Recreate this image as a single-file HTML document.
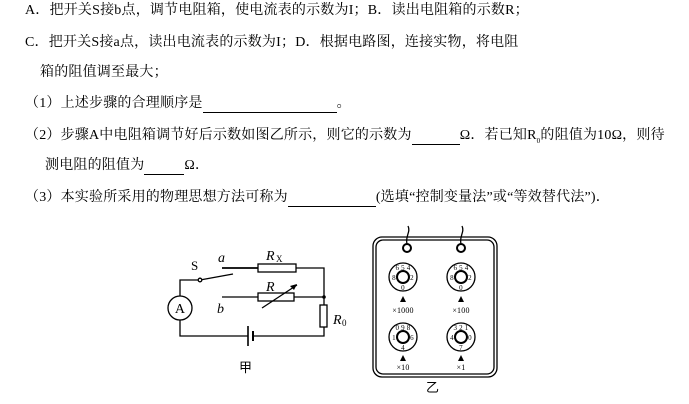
<!DOCTYPE html>
<html><head><meta charset="utf-8"><style>
body{margin:0;background:#fff;width:689px;height:404px;position:relative;overflow:hidden;font-family:"Liberation Serif","Noto Serif CJK SC","Noto Sans CJK SC",serif;font-size:14px;letter-spacing:0.2px;color:#000}
.t{position:absolute;white-space:nowrap;line-height:16px}
u{text-decoration:none;border-bottom:1px solid #000;display:inline-block}
</style></head><body>
<div class="t" style="left:25px;top:3px">A．把开关S接b点，调节电阻箱，使电流表的示数为I；B．读出电阻箱的示数R；</div>
<div class="t" style="left:25px;top:35px">C．把开关S接a点，读出电流表的示数为I；D．根据电路图，连接实物，将电阻</div>
<div class="t" style="left:40px;top:65px">箱的阻值调至最大；</div>
<div class="t" style="left:25px;top:96px">（1）上述步骤的合理顺序是<u style="width:134px">&nbsp;</u>。</div>
<div class="t" style="left:25px;top:128px">（2）步骤A中电阻箱调节好后示数如图乙所示，则它的示数为<u style="width:48px">&nbsp;</u>Ω．若已知R<sub style="font-size:7px">0</sub>的阻值为10Ω，则待</div>
<div class="t" style="left:45px;top:158px">测电阻的阻值为<u style="width:40px">&nbsp;</u>Ω．</div>
<div class="t" style="left:25px;top:190px">（3）本实验所采用的物理思想方法可称为<u style="width:88px">&nbsp;</u>(选填“控制变量法”或“等效替代法”)．</div>
<svg width="689" height="404" style="position:absolute;left:0;top:0" font-family="Liberation Serif,serif">
<g stroke="#000" stroke-width="1.3" fill="none">
<circle cx="180" cy="308" r="12"/>
<polyline points="180,296 180,280 200,280"/>
<polyline points="180,320 180,336 248,336"/>
<polyline points="253,336 324,336 324,327"/>
<line x1="200" y1="280" x2="233" y2="274"/>
<circle cx="200" cy="280" r="1.8" fill="#fff"/>
<line x1="222" y1="268" x2="258" y2="268" stroke-width="1.8"/>
<rect x="258" y="264" width="38" height="8"/>
<polyline points="296,268 324,268 324,305"/>
<line x1="222" y1="297" x2="258" y2="297"/>
<rect x="258" y="293" width="36" height="8"/>
<line x1="294" y1="297" x2="324" y2="297"/>
<line x1="262" y1="308" x2="297" y2="285"/>
<rect x="320" y="305" width="7" height="22"/>
<line x1="248" y1="326" x2="248" y2="346" stroke-width="1.6"/>
<line x1="253" y1="331" x2="253" y2="341" stroke-width="2"/>
<rect x="373" y="237" width="124" height="140" rx="9"/>
<rect x="376" y="240" width="118" height="134" rx="7"/>
<path d="M407 244 C405 236 411 232 408 226 M461 244 C459 236 465 232 462 226"/>
<circle cx="407" cy="248" r="4" stroke-width="2"/>
<circle cx="461" cy="248" r="4" stroke-width="2"/>
<circle cx="403" cy="277" r="14"/><circle cx="403" cy="277" r="6" stroke-width="2"/>
<circle cx="461" cy="277" r="14"/><circle cx="461" cy="277" r="6" stroke-width="2"/>
<circle cx="403" cy="337" r="14"/><circle cx="403" cy="337" r="6" stroke-width="2"/>
<circle cx="461" cy="337" r="14"/><circle cx="461" cy="337" r="6" stroke-width="2"/>
</g>
<polygon points="297,284 290,286 294,290" fill="#000"/>
<circle cx="324" cy="297" r="1.8" fill="#000"/>
<g fill="#000"><polygon points="403,296 400,302 406,302"/><polygon points="461,296 458,302 464,302"/><polygon points="403,355 400,361 406,361"/><polygon points="461,355 458,361 464,361"/></g>
<g font-size="7" text-anchor="middle">
<text x="403" y="270">6 5 4</text><text x="394" y="280">8</text><text x="412" y="280">2</text><text x="403" y="290">0</text>
<text x="461" y="270">6 5 4</text><text x="452" y="280">8</text><text x="470" y="280">2</text><text x="461" y="290">0</text>
<text x="403" y="330">0 9 8</text><text x="394" y="340">1</text><text x="412" y="340">6</text><text x="403" y="350">4</text>
<text x="461" y="330">3 2 1</text><text x="452" y="340">4</text><text x="470" y="340">0</text><text x="461" y="350">7</text>
<text x="403" y="313" font-size="8">×1000</text><text x="461" y="313" font-size="8">×100</text>
<text x="403" y="370" font-size="8">×10</text><text x="461" y="370" font-size="8">×1</text>
</g>
<g font-size="14" font-style="italic">
<text x="218" y="262">a</text><text x="266" y="260">R</text><text x="276" y="262" font-size="9" font-style="normal">X</text>
<text x="266" y="291">R</text><text x="217" y="313">b</text>
<text x="333" y="324">R</text><text x="342" y="326" font-size="9" font-style="normal">0</text>
</g>
<text x="191" y="270" font-size="13">S</text>
<text x="180" y="313" font-size="14" text-anchor="middle">A</text>
<text x="239" y="372" font-size="13" font-family="Noto Sans CJK SC,sans-serif">甲</text>
<text x="426" y="392" font-size="13" font-family="Noto Sans CJK SC,sans-serif">乙</text>
</svg>
</body></html>
